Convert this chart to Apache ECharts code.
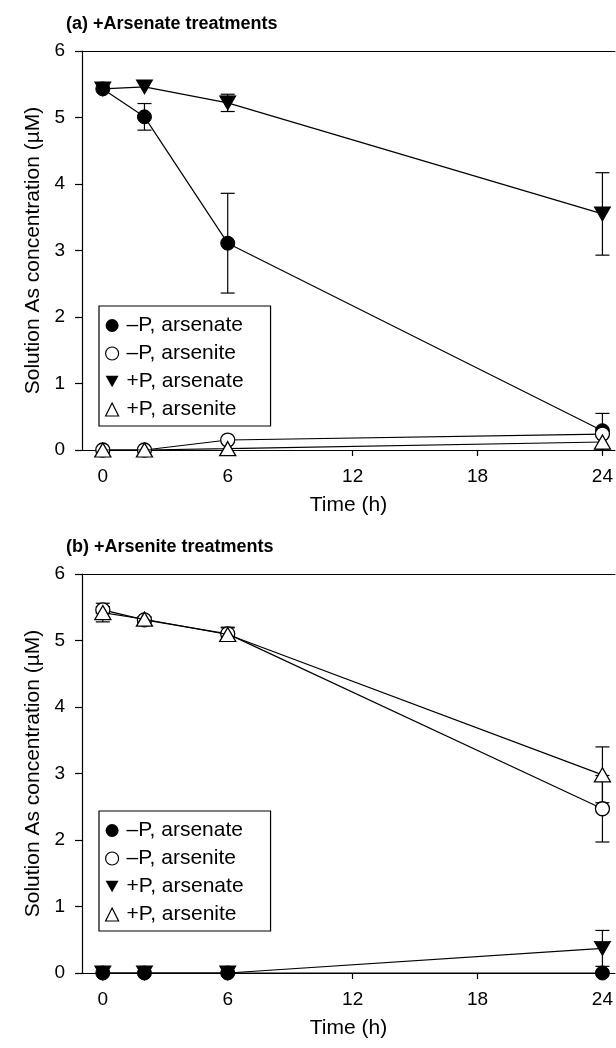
<!DOCTYPE html>
<html><head><meta charset="utf-8">
<script src="https://cdn.jsdelivr.net/npm/echarts@6/dist/echarts.min.js"></script>
<style>html,body{margin:0;padding:0;background:#fff}#c{width:616px;height:1048px}</style>
</head><body><div id="c"></div>
<script>
const times = [0, 2, 6, 24];
const xTicks = [0, 6, 12, 18, 24];
const seriesNames = ['\u2013P, arsenate', '\u2013P, arsenite', '+P, arsenate', '+P, arsenite'];
const panelTitles = ['(a) +Arsenate treatments', '(b) +Arsenite treatments'];

// Panel (a) +Arsenate treatments
const aMinusPArsenate = [5.43, 5.01, 3.11, 0.29];
const aMinusPArsenateErr = [0, 0.2, 0.75, 0.26];
const aMinusPArsenite = [0, 0, 0.15, 0.24];
const aMinusPArseniteErr = [0, 0, 0, 0];
const aPlusPArsenate = [5.43, 5.46, 5.22, 3.55];
const aPlusPArsenateErr = [0, 0, 0.13, 0.62];
const aPlusPArsenite = [0, 0, 0.02, 0.12];
const aPlusPArseniteErr = [0, 0, 0, 0.12];

// Panel (b) +Arsenite treatments
const bMinusPArsenate = [0, 0, 0, 0];
const bMinusPArsenateErr = [0, 0, 0, 0];
const bMinusPArsenite = [5.46, 5.31, 5.1, 2.47];
const bMinusPArseniteErr = [0.05, 0.03, 0.1, 0.5];
const bPlusPArsenate = [0, 0, 0, 0.37];
const bPlusPArsenateErr = [0, 0, 0, 0.27];
const bPlusPArsenite = [5.42, 5.32, 5.09, 2.98];
const bPlusPArseniteErr = [0.14, 0.04, 0.1, 0.42];

const FONT = 'Liberation Sans';
const downTri = 'path://M0,0L16,0L8,14Z';
const styles = [
  {symbol: 'circle', symbolSize: 14, symbolRotate: 0, itemStyle: {color: '#000', borderColor: '#000', borderWidth: 1}},
  {symbol: 'circle', symbolSize: 14, symbolRotate: 0, itemStyle: {color: '#fff', borderColor: '#000', borderWidth: 1.3}},
  {symbol: 'triangle', symbolSize: [16, 14], symbolRotate: 180, itemStyle: {color: '#000', borderColor: '#000', borderWidth: 1}},
  {symbol: 'triangle', symbolSize: [16, 14], symbolRotate: 0, itemStyle: {color: '#fff', borderColor: '#000', borderWidth: 1.3}}
];
const legendIcons = ['circle', 'circle', downTri, 'triangle'];

const panels = [
  {vals: [aMinusPArsenate, aMinusPArsenite, aPlusPArsenate, aPlusPArsenite],
   errs: [aMinusPArsenateErr, aMinusPArseniteErr, aPlusPArsenateErr, aPlusPArseniteErr]},
  {vals: [bMinusPArsenate, bMinusPArsenite, bPlusPArsenate, bPlusPArsenite],
   errs: [bMinusPArsenateErr, bMinusPArseniteErr, bPlusPArsenateErr, bPlusPArseniteErr]}
];

const gridTops = [51, 574];
const legendTops = [306, 811];
const titleTops = [15, 538];

function errRender(params, api) {
  const x = api.value(0), y = api.value(1), e = api.value(2);
  if (!e) return null;
  const t = api.coord([x, y + e]), b = api.coord([x, y - e]);
  const hw = 7, st = {stroke: '#000', lineWidth: 1.2};
  return {type: 'group', children: [
    {type: 'line', shape: {x1: t[0], y1: t[1], x2: b[0], y2: b[1]}, style: st},
    {type: 'line', shape: {x1: t[0] - hw, y1: t[1], x2: t[0] + hw, y2: t[1]}, style: st},
    {type: 'line', shape: {x1: b[0] - hw, y1: b[1], x2: b[0] + hw, y2: b[1]}, style: st}
  ]};
}

const grid = [], xAxis = [], yAxis = [], series = [], legend = [], title = [];
panels.forEach((p, pi) => {
  grid.push({left: 82, right: -2, top: gridTops[pi], height: 399});
  title.push({text: panelTitles[pi], left: 66, top: titleTops[pi], padding: 0,
    textStyle: {fontFamily: FONT, fontSize: 18, fontWeight: 'bold', color: '#000'}});
  xAxis.push({gridIndex: pi, type: 'value', min: -1, max: 24.6,
    name: 'Time (h)', nameLocation: 'middle', nameGap: 45,
    nameTextStyle: {fontFamily: FONT, fontSize: 21, color: '#000'},
    axisLine: {show: true, onZero: false, lineStyle: {color: '#000', width: 1.2}},
    axisTick: {show: true, inside: false, length: 6, customValues: xTicks, lineStyle: {color: '#000', width: 1.2}},
    axisLabel: {customValues: xTicks, margin: 17, fontFamily: FONT, fontSize: 19, color: '#000'},
    splitLine: {show: false}});
  xAxis.push({gridIndex: pi, type: 'value', position: 'top', min: -1, max: 24.6,
    axisLine: {show: true, onZero: false, lineStyle: {color: '#000', width: 1.2}},
    axisTick: {show: false}, axisLabel: {show: false}, splitLine: {show: false}});
  yAxis.push({gridIndex: pi, type: 'value', min: 0, max: 6, interval: 1,
    name: 'Solution As concentration (\u00b5M)', nameLocation: 'middle', nameGap: 33,
    nameTextStyle: {fontFamily: FONT, fontSize: 21, color: '#000'},
    axisLine: {show: true, onZero: false, lineStyle: {color: '#000', width: 1.2}},
    axisTick: {show: true, inside: false, length: 7, lineStyle: {color: '#000', width: 1.2}},
    axisLabel: {margin: 17, fontFamily: FONT, fontSize: 19, color: '#000'},
    splitLine: {show: false}});
  p.vals.forEach((v, si) => {
    series.push({type: 'custom', xAxisIndex: pi * 2, yAxisIndex: pi, renderItem: errRender,
      encode: {x: 0, y: 1}, silent: true, z: 1,
      data: times.map((t, i) => [t, v[i], p.errs[si][i]])});
  });
  p.vals.forEach((v, si) => {
    const s = styles[si];
    series.push({type: 'line', name: seriesNames[si], xAxisIndex: pi * 2, yAxisIndex: pi,
      data: times.map((t, i) => [t, v[i]]),
      symbol: s.symbol, symbolSize: s.symbolSize, symbolRotate: s.symbolRotate,
      showAllSymbol: true, animation: false, z: 2 + si,
      lineStyle: {color: '#000', width: 1.2}, itemStyle: s.itemStyle,
      emphasis: {disabled: true}});
  });
  legend.push({orient: 'vertical', left: 99, top: legendTops[pi],
    padding: [9, 27, 6, 6], itemGap: 7, itemWidth: 13, itemHeight: 13,
    borderColor: '#000', borderWidth: 1.2, backgroundColor: '#fff',
    selectedMode: false,
    textStyle: {fontFamily: FONT, fontSize: 21, lineHeight: 20, color: '#000', padding: [0, 0, 0, 3]},
    data: seriesNames.map((n, si) => ({name: n, icon: legendIcons[si],
      itemStyle: {color: styles[si].itemStyle.color, borderColor: '#000', borderWidth: si % 2 ? 1.2 : 0}}))});
});

const chart = echarts.init(document.getElementById('c'), null, {renderer: 'canvas'});
chart.setOption({animation: false, backgroundColor: '#fff', title, grid, xAxis, yAxis, legend, series});
</script></body></html>
